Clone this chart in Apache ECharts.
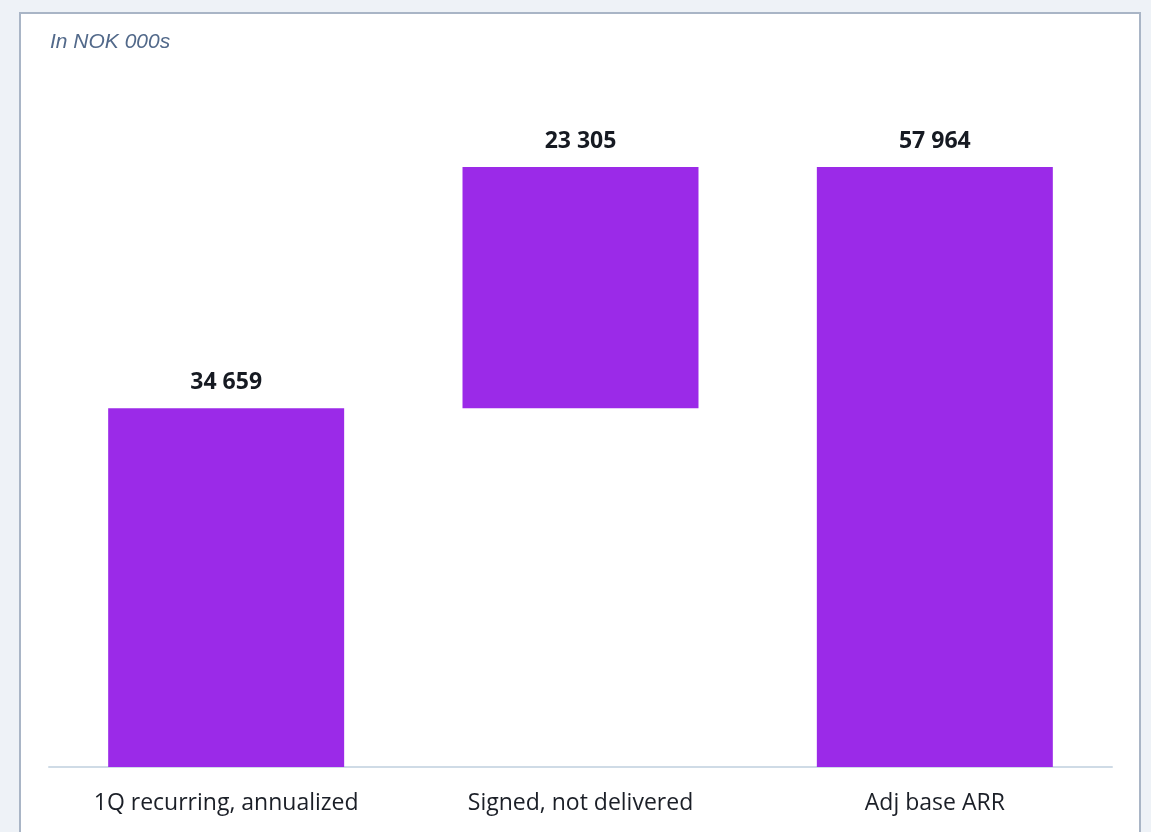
<!DOCTYPE html>
<html>
<head>
<meta charset="utf-8">
<script src="https://cdn.jsdelivr.net/npm/echarts@6/dist/echarts.min.js"></script>
<style>
  html, body { margin: 0; padding: 0; background: #eef2f7; }
  #chart { width: 1151px; height: 832px; }
</style>
</head>
<body>
<div id="chart"></div>
<script>
// Bridge from quarterly recurring revenue to adjusted ARR (NOK thousands)
const categories = ['1Q recurring, annualized', 'Signed, not delivered', 'Adj base ARR'];
const stepValues = [34659, 23305, 57964];
const stepKinds = ['total', 'delta', 'total'];
const unitNote = 'In NOK 000s';

// Invisible offset under each floating step so it sits on top of the running total
const offsets = [];
let running = 0;
stepKinds.forEach((kind, i) => {
  if (kind === 'total') { offsets.push(0); running = stepValues[i]; }
  else { offsets.push(running); running += stepValues[i]; }
});

const fmt = v => String(v).replace(/\B(?=(\d{3})+(?!\d))/g, ' ');

const chart = echarts.init(document.getElementById('chart'), null, { renderer: 'canvas' });
chart.setOption({
  backgroundColor: 'transparent',
  animation: false,
  graphic: [
    {
      type: 'rect',
      z: -10,
      shape: { x: 20, y: 13, width: 1120, height: 840 },
      style: { fill: '#ffffff', stroke: '#a9b5c6', lineWidth: 2 }
    },
    {
      type: 'text',
      left: 50,
      top: 32,
      style: {
        text: unitNote,
        fill: '#52698a',
        font: 'italic 21px "Liberation Sans", Arial, sans-serif'
      }
    }
  ],
  grid: { left: 49, right: 39, top: 146, bottom: 65, containLabel: false },
  xAxis: {
    type: 'category',
    data: categories,
    axisLine: { show: true, lineStyle: { color: '#cfdbe6', width: 2 } },
    axisTick: { show: false },
    axisLabel: {
      color: '#1b1f27',
      fontSize: 23,
      fontFamily: '"Open Sans", sans-serif',
      margin: 25
    }
  },
  yAxis: {
    type: 'value',
    min: 0,
    max: 60000,
    show: false,
    splitLine: { show: false }
  },
  series: [
    {
      type: 'bar',
      stack: 'bridge',
      data: offsets,
      itemStyle: { color: 'transparent' },
      emphasis: { disabled: true },
      silent: true,
      barCategoryGap: '33.4%'
    },
    {
      type: 'bar',
      stack: 'bridge',
      data: stepValues,
      itemStyle: { color: '#9b2ae8' },
      barCategoryGap: '33.4%',
      label: {
        show: true,
        position: 'top',
        distance: 14,
        formatter: p => fmt(p.value),
        color: '#161a22',
        fontSize: 23,
        fontWeight: 'bold',
        fontFamily: '"Open Sans", sans-serif'
      }
    }
  ]
});
</script>
</body>
</html>
